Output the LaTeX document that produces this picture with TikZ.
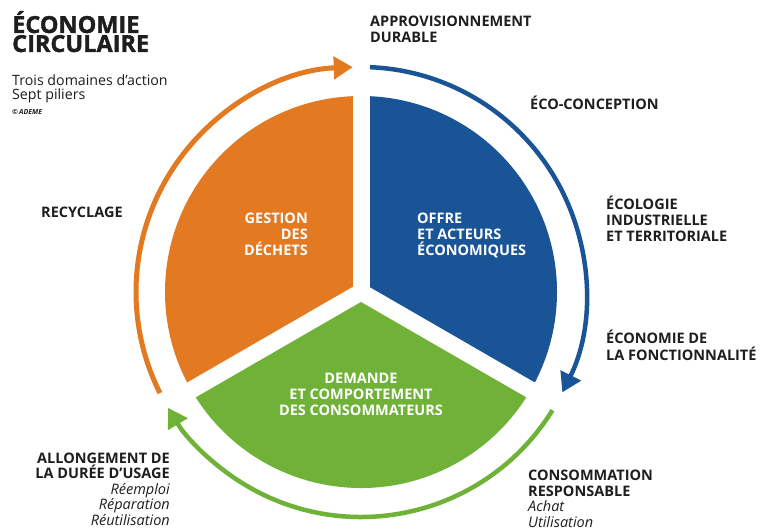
\documentclass[tikz,border=0pt]{standalone}
\usepackage{fontspec}
\setmainfont{Open Sans}
\newfontfamily\heavyfont{Open Sans}[BoldFeatures={FakeBold=1.5}]
\usetikzlibrary{arrows.meta}
\definecolor{orng}{RGB}{227,122,33}
\definecolor{blu}{RGB}{25,84,150}
\definecolor{grn}{RGB}{112,178,56}
\definecolor{txt}{RGB}{30,30,30}
\begin{document}
\begin{tikzpicture}[x=1pt,y=-1pt,
  lab/.style={font=\bfseries\fontsize{14.5}{16.2}\selectfont, text=txt, inner sep=0pt, align=left, anchor=base west},
  inlab/.style={font=\bfseries\fontsize{14.5}{16}\selectfont, text=white, inner sep=0pt},
  cyc/.style={line width=4.5pt, -{Triangle[length=19pt,width=22pt]}},
  gap/.style={white, line width=17pt}]
\useasboundingbox[fill=white] (0,0) rectangle (771,529);
\coordinate (c) at (361,292);
% sectors
\fill[orng] (c) -- ++(-90:196) arc[start angle=-90, end angle=-210, radius=196] -- cycle;
\fill[blu] (c) -- ++(-90:196) arc[start angle=-90, end angle=30, radius=196] -- cycle;
\fill[grn] (c) -- ++(-210:196) arc[start angle=-210, end angle=-330, radius=196] -- cycle;
\draw[gap] (c) -- ++(-90:212);
\draw[gap] (c) -- ++(-210:212);
\draw[gap] (c) -- ++(-330:212);
% cycle arrows
\draw[cyc, orng, line width=5pt] (c) ++(-206.7:225) arc[start angle=-206.7, end angle=-92.1, radius=225];
\draw[cyc, blu] (c) ++(-87.7:225) arc[start angle=-87.7, end angle=26.5, radius=225];
\draw[cyc, grn] (c) ++(31.7:225) arc[start angle=31.7, end angle=149, radius=225];
% title
\node[lab, font=\heavyfont\bfseries\fontsize{23.5}{19}\selectfont] (title) at (12,52) {ÉCONOMIE\\CIRCULAIRE};
\node[lab, font=\fontsize{14.2}{14.5}\selectfont] (subt) at (12,100) {Trois domaines d’action\\Sept piliers};
\node[lab, font=\bfseries\itshape\fontsize{7}{8}\selectfont] (copy) at (12,115) {©\,ADEME};
% labels
\node[lab] (appro) at (370,43) {APPROVISIONNEMENT\\DURABLE};
\node[lab] (eco) at (530,110) {ÉCO-CONCEPTION};
\node[lab] (ecol) at (606,242) {ÉCOLOGIE\\INDUSTRIELLE\\ET TERRITORIALE};
\node[lab] (fonc) at (606,360) {ÉCONOMIE DE\\LA FONCTIONNALITÉ};
\node[lab, font=\bfseries\fontsize{14.5}{15.4}\selectfont] (conso) at (528,527) {CONSOMMATION\\RESPONSABLE\\{\mdseries\itshape Achat}\\{\mdseries\itshape Utilisation}};
\node[lab] (recy) at (41,218) {RECYCLAGE};
\node[lab, font=\bfseries\fontsize{14.5}{15.5}\selectfont, anchor=base east, align=right] (allong) at (170,525) {ALLONGEMENT DE\\LA DURÉE D’USAGE\\{\mdseries\itshape Réemploi}\\{\mdseries\itshape Réparation}\\{\mdseries\itshape Réutilisation}};
% inner labels
\node[inlab, align=right, anchor=base east] (gest) at (308,256) {GESTION\\DES\\DÉCHETS};
\node[inlab, align=left, anchor=base west] (offre) at (417,256) {OFFRE\\ET ACTEURS\\ÉCONOMIQUES};
\node[inlab, align=center, anchor=base] (dem) at (361,415) {DEMANDE\\ET COMPORTEMENT\\DES CONSOMMATEURS};
\end{tikzpicture}
\end{document}
